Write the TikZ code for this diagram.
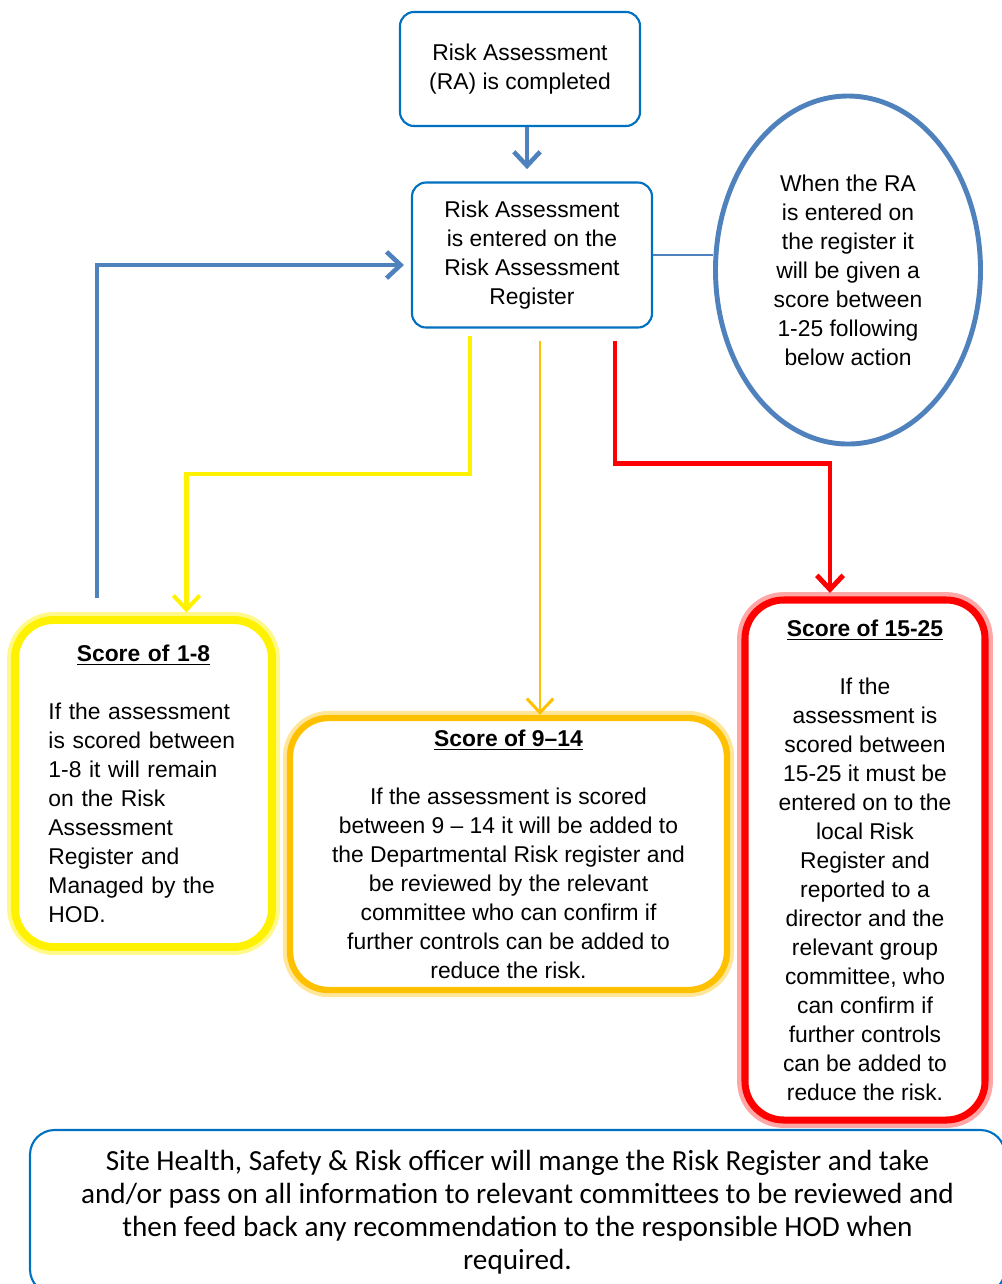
\documentclass[tikz,border=0pt]{standalone}
\usepackage{fontspec}
\setmainfont{Liberation Sans}
\newfontfamily\notefont{Carlito}
\usetikzlibrary{shapes.geometric,arrows.meta}

\definecolor{boxblue}{RGB}{0,112,192}
\definecolor{arrowblue}{RGB}{79,129,189}
\definecolor{amber}{RGB}{255,192,0}

\begin{document}
\begin{tikzpicture}[
    every node/.style={font=\fontsize{13}{16.5}\selectfont},
    stagebox/.style={draw=boxblue, rectangle, rounded corners=8pt, fill=white, line width=1.2pt, align=center, inner sep=4pt},
    notebox/.style={draw=arrowblue, ellipse, line width=2.8pt, fill=white, align=center, inner sep=0pt},
    scorebox/.style={rectangle, rounded corners=22pt, fill=white, align=center, inner sep=6pt},
    flow/.style={-{Straight Barb[length=8pt,width=15pt]}, line width=2.6pt}
]
    \useasboundingbox (0,0) rectangle (20.04,-25.68);

    % Step 1: Assessment completed
    \node[stagebox, minimum width=4.8cm, minimum height=2.28cm] (ra) at (10.4,-1.38) {
        Risk Assessment\\
        (RA) is completed
    };

    % Step 2: Entry on the register
    \node[stagebox, minimum width=4.8cm, minimum height=2.9cm] (register) at (10.64,-5.1) {
        Risk Assessment\\
        is entered on the\\
        Risk Assessment\\
        Register
    };

    % Side note on scoring
    \node[notebox, minimum width=5.3cm, minimum height=6.96cm] (note) at (16.96,-5.4) {
        When the RA\\
        is entered on\\
        the register it\\
        will be given a\\
        score between\\
        1-25 following\\
        below action
    };

    % Score bands
    \node[scorebox, draw=yellow, line width=4.5pt, preaction={draw=yellow!45, line width=9pt},
          minimum width=5.14cm, minimum height=6.54cm, text width=3.8cm, align=left] (low) at (2.87,-15.67) {
        \makebox[\linewidth]{\underline{\textbf{Score of 1-8}}}\\[16.5pt]
        If the assessment\\
        is scored between\\
        1-8 it will remain\\
        on the Risk\\
        Assessment\\
        Register and\\
        Managed by the\\
        HOD.
    };

    \node[scorebox, draw=amber, line width=3.6pt, preaction={draw=amber!40, line width=8pt},
          minimum width=8.74cm, minimum height=5.44cm] (medium) at (10.17,-17.08) {
        \underline{\textbf{Score of 9--14}}\\[16.5pt]
        If the assessment is scored\\
        between 9 -- 14 it will be added to\\
        the Departmental Risk register and\\
        be reviewed by the relevant\\
        committee who can confirm if\\
        further controls can be added to\\
        reduce the risk.
    };

    \node[scorebox, draw=red, line width=4pt, preaction={draw=red!35, line width=9pt},
          minimum width=4.8cm, minimum height=10.4cm] (high) at (17.3,-17.2) {
        \underline{\textbf{Score of 15-25}}\\[16.5pt]
        If the\\
        assessment is\\
        scored between\\
        15-25 it must be\\
        entered on to the\\
        local Risk\\
        Register and\\
        reported to a\\
        director and the\\
        relevant group\\
        committee, who\\
        can confirm if\\
        further controls\\
        can be added to\\
        reduce the risk.
    };

    % Officer duties
    \node[stagebox, rounded corners=14pt, minimum width=19.5cm, minimum height=3.28cm,
          font=\notefont\fontsize{16.6}{18.8}\selectfont] (officer) at (10.35,-24.24) {
        Site Health, Safety \& Risk officer will mange the Risk Register and take\\
        and/or pass on all information to relevant committees to be reviewed and\\
        then feed back any recommendation to the responsible HOD when\\
        required.
    };

    % Connectors
    \coordinate (back) at (1.94,-11.96);
    \draw[flow, arrowblue, shorten >=7pt] ([xshift=0.14cm]ra.south) -- ([xshift=0.14cm]ra.south |- register.north);
    \draw[arrowblue, line width=1.2pt] (register.east) -- (note.west |- register.east);
    \draw[flow, arrowblue, shorten >=4pt] (back) |- ([yshift=-0.2cm]register.west);
    \draw[flow, yellow, line width=2.3pt, shorten <=4pt, shorten >=2pt] ([xshift=-1.24cm]register.south) -- ++(0,-2.9) -| ([xshift=0.86cm]low.north);
    \draw[flow, amber, line width=1.7pt, shorten <=7pt] ([xshift=0.16cm]register.south) -- ([xshift=0.16cm]register.south |- medium.north);
    \draw[flow, red, line width=2.8pt, shorten <=7pt, shorten >=2pt] ([xshift=1.66cm]register.south) -- ++(0,-2.7) -| ([xshift=-0.7cm]high.north);

\end{tikzpicture}
\end{document}
